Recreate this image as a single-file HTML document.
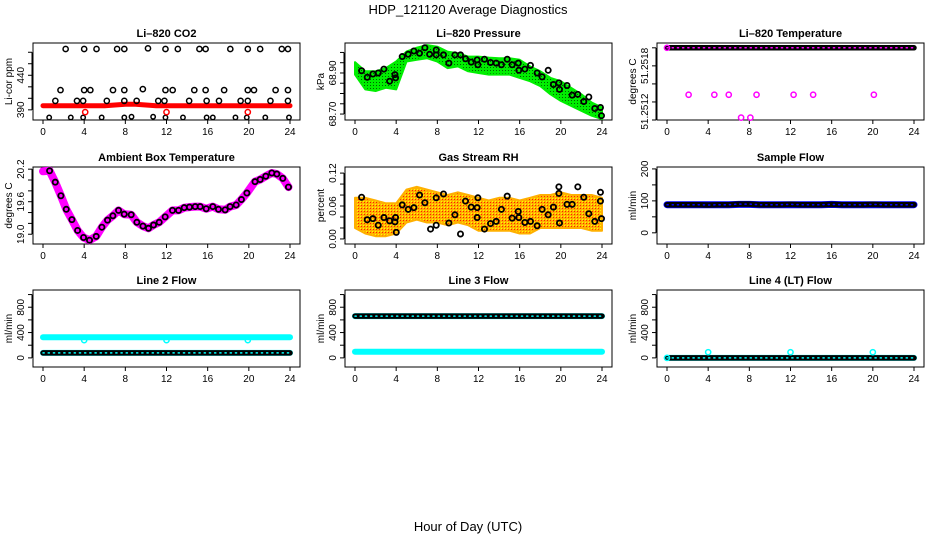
<!DOCTYPE html>
<html><head><meta charset="utf-8"><style>
html,body{margin:0;padding:0;background:#fff}
svg{display:block;font-family:"Liberation Sans",sans-serif}
</style></head><body>
<svg id="c" width="936" height="540" viewBox="0 0 936 540">
<defs>
<pattern id="orangeDots" width="3" height="3" patternUnits="userSpaceOnUse">
<rect width="3" height="3" fill="#ffb000"/><rect x="1" y="1" width="1" height="1" fill="#ff2000"/><rect x="0" y="0" width="1" height="1" fill="#ffff00"/>
</pattern>
<pattern id="greenDots" width="3" height="3" patternUnits="userSpaceOnUse">
<rect width="3" height="3" fill="#00ee00"/><rect x="1" y="1" width="1" height="1" fill="#006000"/>
</pattern>
</defs>
<text x="468" y="14" text-anchor="middle" font-size="13">HDP_121120  Average Diagnostics</text>
<text x="468" y="531" text-anchor="middle" font-size="13">Hour of Day (UTC)</text>
</svg>
<script>
// ---------- data ----------
const hours = [0,1,2,3,4,5,6,7,8,9,10,11,12,13,14,15,16,17,18,19,20,21,22,23,24];
// CO2
const co2Red = [396,396,396,396,396,396,396,397,398,398,397,396,396,396,396,396,396,396,396,396,396,396,396,396,396];
const co2TopH = [2.2,4.0,5.2,7.2,7.9,10.2,11.9,13.1,15.2,15.8,18.2,19.9,21.1,23.2,23.8];
const co2TopV = [478,478,478,478,478,479,478,478,478,478,478,478,478,478,478];
const co2MidH = [1.7,4.0,4.6,6.8,7.9,9.7,11.9,12.6,14.7,15.8,17.6,19.9,20.5,22.6,23.8];
const co2MidV = [418.6,418.6,418.6,418.6,418.6,420,418.6,418.6,418.6,418.6,418.6,418.6,418.6,418.6,418.6];
const co2LowH = [1.2,3.3,3.9,6.2,7.9,9.1,11.2,11.8,14.2,15.9,17.1,19.2,19.9,22.1,23.8];
const co2LowV = [403,403,403,403,403,403,403,403,403,403,403,403,403,403,403];
const co2BotH = [0.6,2.7,3.9,5.7,7.9,8.6,10.7,11.9,13.6,15.9,16.5,18.7,19.8,21.6,23.9];
const co2BotV = [379,379,379,379,379,380,380,379,379,379,379,379,379,379,379];
const co2RedOutH = [4.1,12.0,19.9];
const co2RedOutV = [386.7,386.7,386.7];
// Pressure
const presUpper = [68.953,68.908,68.908,68.924,68.956,69.004,69.023,69.036,69.028,69.004,68.996,68.980,68.980,68.975,68.972,68.972,68.964,68.932,68.908,68.876,68.860,68.828,68.796,68.756,68.732];
const presLower = [68.892,68.820,68.812,68.828,68.820,68.956,68.964,68.972,68.956,68.924,68.932,68.908,68.900,68.892,68.892,68.892,68.876,68.860,68.836,68.796,68.764,68.740,68.716,68.692,68.676];
const presPtH = [0.64,1.19,1.74,2.26,2.81,3.36,3.88,3.94,4.59,5.17,5.72,6.27,6.79,7.25,7.89,7.89,8.6,9.12,9.71,10.25,10.74,11.29,11.87,11.94,12.58,13.17,13.72,14.23,14.79,15.27,15.86,15.92,16.5,17.05,17.7,18.18,18.77,19.28,19.81,19.87,20.6,21.1,21.65,22.23,22.72,23.3,23.85,23.95];
const presPtV = [68.911,68.879,68.895,68.900,68.919,68.860,68.892,68.876,68.980,68.991,69.007,68.996,69.023,68.991,69.012,68.988,68.988,68.948,68.988,68.988,68.969,68.953,68.964,68.940,68.967,68.951,68.948,68.940,68.967,68.940,68.948,68.913,68.919,68.937,68.900,68.881,68.913,68.844,68.852,68.820,68.839,68.792,68.796,68.761,68.783,68.727,68.732,68.692];
// Li-820 temperature
const tempTop = [51.2518,51.2518,51.2518,51.2518,51.2518,51.2518,51.2518,51.2518,51.2518,51.2518,51.2518,51.2518,51.2518,51.2518,51.2518,51.2518,51.2518,51.2518,51.2518,51.2518,51.2518,51.2518,51.2518,51.2518,51.2518];
const tempOutH = [2.1,4.6,6.0,8.7,12.3,14.2,20.1,7.2,8.1];
const tempOutV = [51.25141,51.25141,51.25141,51.25141,51.25141,51.25141,51.25141,51.25122,51.25122];
// Ambient box temperature
const ambH = [0,0.64,1.19,1.74,2.26,2.81,3.36,3.94,4.52,5.17,5.72,6.27,6.79,7.34,7.89,8.57,9.12,9.71,10.25,10.74,11.29,11.87,12.58,13.17,13.72,14.23,14.79,15.27,15.86,16.5,17.05,17.7,18.18,18.77,19.28,19.81,20.6,21.1,21.65,22.23,22.72,23.3,23.85];
const ambV = [20.16,20.17,19.96,19.71,19.46,19.27,19.07,18.94,18.89,18.96,19.13,19.26,19.34,19.44,19.37,19.36,19.22,19.15,19.11,19.17,19.22,19.32,19.44,19.44,19.49,19.50,19.51,19.51,19.47,19.51,19.46,19.45,19.51,19.54,19.64,19.76,19.97,20.01,20.07,20.13,20.11,20.03,19.87];
// Gas stream RH
const rhUpper = [0.075,0.075,0.07,0.065,0.065,0.09,0.095,0.09,0.085,0.08,0.085,0.08,0.075,0.07,0.075,0.075,0.07,0.075,0.08,0.08,0.085,0.08,0.08,0.08,0.075];
const rhLower = [0.02,0.01,0.005,0.005,0.01,0.03,0.035,0.03,0.03,0.025,0.03,0.025,0.015,0.015,0.015,0.015,0.01,0.01,0.02,0.02,0.02,0.02,0.02,0.015,0.015];
const rhPtH = [0.64,1.19,1.74,2.26,2.81,3.36,3.88,3.94,4.01,4.59,5.17,5.72,6.27,6.79,7.34,7.89,7.89,8.6,9.12,9.71,10.25,10.74,11.29,11.87,11.87,11.94,12.58,13.17,13.72,14.23,14.79,15.27,15.86,15.92,16.5,17.05,17.7,18.18,18.77,19.28,19.81,19.81,19.87,20.6,21.1,21.65,22.23,22.72,23.3,23.85,23.85,23.95];
const rhPtV = [0.076,0.035,0.037,0.025,0.039,0.033,0.031,0.039,0.012,0.062,0.054,0.057,0.080,0.066,0.018,0.075,0.025,0.082,0.029,0.044,0.009,0.069,0.058,0.057,0.039,0.075,0.018,0.028,0.032,0.054,0.078,0.038,0.050,0.039,0.030,0.032,0.024,0.054,0.044,0.058,0.095,0.083,0.029,0.063,0.063,0.095,0.076,0.046,0.032,0.069,0.085,0.037];
// Flows
const sampleBlue = [88,88,88,88,88,88,88,89,89,88,88,88,88,88,88,88,89,88,88,88,88,88,88,88,88];
const sampleBlack = [88,88,88,88,87,88,88,90,90,88,88,88,89,88,88,88,89,88,88,88,89,88,88,88,88];
const line2Upper = [325,325,325,325,325,325,325,325,325,325,325,325,325,325,325,325,325,325,325,325,325,325,325,325,325];
const line2Lower = [78,78,78,78,78,78,78,78,78,78,78,78,78,78,78,78,78,78,78,78,78,78,78,78,78];
const line2OutH = [4.0,12.0,19.9];
const line2OutV = [280,280,280];
const line3Upper = [660,660,660,660,660,660,660,660,660,660,660,660,660,660,660,660,660,660,660,660,660,660,660,660,660];
const line3Lower = [96,96,96,96,96,96,96,96,96,96,96,96,96,96,96,96,96,96,96,96,96,96,96,96,96];
const line4Base = [0,0,0,0,0,0,0,0,0,0,0,0,0,0,0,0,0,0,0,0,0,0,0,0,0];
const line4OutH = [4.0,12.0,20.0];
const line4OutV = [90,90,90];
const xTicks = [0,4,8,12,16,20,24];

// ---------- layout ----------
const NS = "http://www.w3.org/2000/svg";
const svg = document.getElementById('c');
const colLeft = [33,345,657], boxW = 267;
const rowTop = [43,167,290], boxH = 77;
function mk(tag, attrs, parent){ const e = document.createElementNS(NS, tag); for (const k in attrs) e.setAttribute(k, attrs[k]); (parent||svg).appendChild(e); return e; }

function makePanel(col,row,title,ylab,ymin,ymax,ticks,labels,labelVals,name){
  const g = mk('g',{});
  
  
  const L = colLeft[col], T = rowTop[row];
  const p = {g, L, T,
    x: h => L + 10 + h/24*247,
    y: v => T + (ymax - v)/(ymax - ymin)*boxH};
  const box = mk('rect',{x:L,y:T,width:boxW,height:boxH,fill:'none',stroke:'#000','stroke-width':1},g);
  
  
  const t = mk('text',{x:L+boxW/2,y:T-6,'text-anchor':'middle','font-size':11,'font-weight':'bold'},g);
  t.textContent = title;
  
  
  const yl = mk('text',{x:0,y:0,'text-anchor':'middle','font-size':10,transform:`translate(${L-21},${T+boxH/2}) rotate(-90)`},g);
  yl.textContent = ylab;
  
  
  const yAx = mk('line',{x1:L-1,x2:L-1,y1:p.y(ticks[0]),y2:p.y(ticks[ticks.length-1]),stroke:'#000'},g);
  
  
  ticks.forEach(v=>{ mk('line',{x1:L-5,x2:L-1,y1:p.y(v),y2:p.y(v),stroke:'#000'},g); });
  labels.forEach((s,i)=>{
    const yy = p.y(labelVals[i]);
    const tl = mk('text',{x:0,y:0,'text-anchor':'middle','font-size':10,transform:`translate(${L-9},${yy}) rotate(-90)`},g);
    tl.textContent = s;
    
    
  });
  const xAx = mk('line',{x1:p.x(0),x2:p.x(24),y1:T+boxH,y2:T+boxH,stroke:'#000'},g);
  
  
  xTicks.forEach(h=>{
    mk('line',{x1:p.x(h),x2:p.x(h),y1:T+boxH,y2:T+boxH+4,stroke:'#000'},g);
    const tx = mk('text',{x:p.x(h),y:T+boxH+15,'text-anchor':'middle','font-size':10},g);
    tx.textContent = h;
    
    
  });
  return p;
}
function pts(p,hs,vs,color,name,r,sw){
  hs.forEach((h,i)=>{
    const c = mk('circle',{cx:p.x(h),cy:p.y(vs[i]),r:r||2.6,fill:'none',stroke:color,'stroke-width':sw||1.5},p.g);
    
    
  });
}
function band(p,vs,color,w,name,dash){
  const d = vs.map((v,i)=>(i?'L':'M')+p.x(hours[i]).toFixed(1)+','+p.y(v).toFixed(1)).join('');
  const a = {d,fill:'none',stroke:color,'stroke-width':w,'stroke-linecap':'round','stroke-linejoin':'round'};
  if (dash) a['stroke-dasharray'] = dash;
  const e = mk('path',a,p.g);
  
  
}
function circleBand(p,vs,name,hole){
  band(p,vs,'#000',5.5,name);
  band(p,vs,hole,1.5,name+'-holes','1.2 4');
}
function area(p,up,lo,fill,name){
  let d = up.map((v,i)=>(i?'L':'M')+p.x(hours[i]).toFixed(1)+','+p.y(v).toFixed(1)).join('');
  for (let i=lo.length-1;i>=0;i--) d += 'L'+p.x(hours[i]).toFixed(1)+','+p.y(lo[i]).toFixed(1);
  const e = mk('path',{d:d+'Z',fill,stroke:fill==='url(#greenDots)'?'#00ee00':'#ffb000','stroke-width':2,'stroke-linejoin':'round'},p.g);
  
  
}

// Panel 1: CO2
let p = makePanel(0,0,'Li\u2013820 CO2','Li-cor ppm',375.3,486.7,[390,406.7,423.3,440,456.7,473.3],['390','440'],[390,440],'panel-co2');
band(p,co2Red,'#ff0000',5,'co2-red-series');
pts(p,co2TopH,co2TopV,'#000','co2-point');
pts(p,co2MidH,co2MidV,'#000','co2-point');
pts(p,co2LowH,co2LowV,'#000','co2-point');
pts(p,co2BotH,co2BotV,'#000','co2-point',2.2);
pts(p,co2RedOutH,co2RedOutV,'#ff0000','co2-red-outlier');

// Panel 2: Pressure
p = makePanel(1,0,'Li\u2013820 Pressure','kPa',68.671,69.046,[68.70,68.75,68.80,68.85,68.90,68.95,69.00],['68.70','68.90'],[68.70,68.90],'panel-pressure');
area(p,presUpper,presLower,'url(#greenDots)','pressure-green-band');
pts(p,presPtH,presPtV,'#000','pressure-point',2.6,1.8);

// Panel 3: Li-820 temperature
p = makePanel(2,0,'Li\u2013820 Temperature','degrees C',51.2512,51.25184,[51.2512,51.25135,51.2515,51.25165,51.2518],['51.2518','51.2512'],[51.25165,51.25127],'panel-li820-temperature');
circleBand(p,tempTop,'temperature-black-series','#ff00ff');
pts(p,[0],[51.2518],'#ff00ff','temperature-magenta-point');
pts(p,tempOutH,tempOutV,'#ff00ff','temperature-magenta-point');

// Panel 4: Ambient box temperature
p = makePanel(0,1,'Ambient Box Temperature','degrees C',18.82,20.24,[19.0,19.2,19.4,19.6,19.8,20.0,20.2],['19.0','19.6','20.2'],[19.0,19.6,20.2],'panel-ambient-temperature');
(function(){
  const d = ambH.map((h,i)=>(i?'L':'M')+p.x(h).toFixed(1)+','+p.y(ambV[i]).toFixed(1)).join('');
  const e = mk('path',{d,fill:'none',stroke:'#ff00ff','stroke-width':8,'stroke-linecap':'round','stroke-linejoin':'round'},p.g);
  
  
})();
pts(p,ambH.slice(1),ambV.slice(1),'#000','ambient-point',2.6,1.8);

// Panel 5: Gas stream RH
p = makePanel(1,1,'Gas Stream RH','percent',-0.0092,0.1311,[0,0.02,0.04,0.06,0.08,0.10,0.12],['0.00','0.06','0.12'],[0,0.06,0.12],'panel-gas-stream-rh');
area(p,rhUpper,rhLower,'url(#orangeDots)','rh-orange-cloud');
pts(p,rhPtH,rhPtV,'#000','rh-point',2.6,1.8);

// Panel 6: Sample flow
p = makePanel(2,1,'Sample Flow','ml/min',-35,206,[0,50,100,150,200],['0','100','200'],[0,100,200],'panel-sample-flow');
band(p,sampleBlue,'#0000ff',7,'sample-blue-series');
circleBand(p,sampleBlack,'sample-black-series','#0000ff');

// Panel 7: Line 2 flow
p = makePanel(0,2,'Line 2 Flow','ml/min',-144,1072,[0,200,400,600,800,1000],['0','400','800'],[0,400,800],'panel-line2-flow');
band(p,line2Upper,'#00ffff',6,'line2-cyan-upper');
band(p,line2Lower,'#00ffff',6,'line2-cyan-lower');
circleBand(p,line2Lower,'line2-black-series','#00ffff');
pts(p,line2OutH,line2OutV,'#00ffff','line2-cyan-outlier');

// Panel 8: Line 3 flow
p = makePanel(1,2,'Line 3 Flow','ml/min',-144,1072,[0,200,400,600,800,1000],['0','400','800'],[0,400,800],'panel-line3-flow');
band(p,line3Lower,'#00ffff',6,'line3-cyan-lower');
band(p,line3Upper,'#00ffff',6,'line3-cyan-upper');
circleBand(p,line3Upper,'line3-black-series','#00ffff');

// Panel 9: Line 4 flow
p = makePanel(2,2,'Line 4 (LT) Flow','ml/min',-144,1072,[0,200,400,600,800,1000],['0','400','800'],[0,400,800],'panel-line4-flow');
band(p,line4Base,'#00ffff',6,'line4-cyan-series');
circleBand(p,line4Base,'line4-black-series','#00ffff');
pts(p,line4OutH,line4OutV,'#00ffff','line4-cyan-outlier');
pts(p,[0],[0],'#00ffff','line4-cyan-outlier');
</script>
</body></html>
